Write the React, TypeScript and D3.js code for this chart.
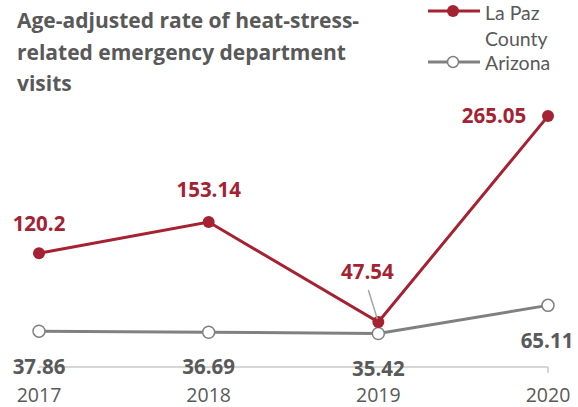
import React from 'react';
import * as d3 from 'd3';

const years = ['2017', '2018', '2019', '2020'];
const laPaz = [120.2, 153.14, 47.54, 265.05];
const arizona = [37.86, 36.69, 35.42, 65.11];
const laPazLabels = ['120.2', '153.14', '47.54', '265.05'];
const arizonaLabels = ['37.86', '36.69', '35.42', '65.11'];
const titleLines = ['Age-adjusted rate of heat-stress-', 'related emergency department', 'visits'];

const RED = '#A52232';
const GRAY = '#808080';
const TEXT = '#595959';
const FONT = '"Open Sans", Lato, sans-serif';
const LEGEND_FONT = 'Lato, "Open Sans", sans-serif';

const width = 578;
const height = 407;

const App = () => {
  const x = d3.scalePoint().domain(years).range([39, 548]);
  const y = d3.scaleLinear().domain([0, 300]).range([367, 83]);

  const line = d3
    .line<number>()
    .x((_, i) => x(years[i]) as number)
    .y((d) => y(d));

  // label offsets relative to point (dx, dy)
  const redOffsets = [
    [0, -29],
    [0, -32],
    [-11, -50],
    [-54, 0],
  ];
  const grayOffsets = [
    [0, 36],
    [0, 35],
    [0, 35],
    [-1, 35],
  ];

  return (
    <svg
      width={width}
      height={height}
      style={{ position: 'absolute', left: 0, top: 0, background: '#fff' }}
      fontFamily={FONT}
    >
      {/* title */}
      {titleLines.map((t, i) => (
        <text key={t} x={17} y={28 + i * 31.5} fontSize={21} fontWeight="bold" fill={TEXT}>
          {t}
        </text>
      ))}

      {/* legend */}
      <g fontFamily={LEGEND_FONT}>
        <line x1={428} x2={480} y1={11} y2={11} stroke={RED} strokeWidth={3} />
        <circle cx={453} cy={11} r={6} fill={RED} />
        <text x={485} y={19.5} fontSize={19.5} fill={TEXT}>La Paz</text>
        <text x={485} y={46} fontSize={19.5} fill={TEXT}>County</text>
        <line x1={428} x2={480} y1={62} y2={62} stroke={GRAY} strokeWidth={3} />
        <circle cx={453} cy={62} r={5.5} fill="#fff" stroke={GRAY} strokeWidth={1.5} />
        <text x={485} y={70} fontSize={19.5} fill={TEXT}>Arizona</text>
      </g>

      {/* axis */}
      <line x1={x(years[0])} x2={x(years[3])} y1={y(0)} y2={y(0)} stroke="#c8c8c8" strokeWidth={1.5} />
      <line x1={x(years[3])} x2={x(years[3])} y1={y(0)} y2={y(0) + 6} stroke="#c8c8c8" strokeWidth={1.5} />
      {years.map((yr) => (
        <text key={yr} x={x(yr)} y={395} dy="0.35em" textAnchor="middle" fontSize={19.5} fill={TEXT}>
          {yr}
        </text>
      ))}

      {/* arizona */}
      <path d={line(arizona) || ''} fill="none" stroke={GRAY} strokeWidth={3} />
      {arizona.map((v, i) => (
        <circle key={i} cx={x(years[i])} cy={y(v)} r={6} fill="#fff" stroke={GRAY} strokeWidth={1.5} />
      ))}

      {/* la paz */}
      <path d={line(laPaz) || ''} fill="none" stroke={RED} strokeWidth={3} />
      {laPaz.map((v, i) => (
        <circle key={i} cx={x(years[i])} cy={y(v)} r={6} fill={RED} />
      ))}

      {/* leader line for 47.54 */}
      <line
        x1={(x(years[2]) as number) - 10}
        y1={y(laPaz[2]) - 32}
        x2={(x(years[2]) as number) - 1}
        y2={y(laPaz[2]) - 3}
        stroke="#a6a6a6"
        strokeWidth={1.5}
      />

      {/* labels */}
      {laPaz.map((v, i) => (
        <text
          key={i}
          x={(x(years[i]) as number) + redOffsets[i][0]}
          y={y(v) + redOffsets[i][1]}
          dy="0.35em"
          textAnchor="middle"
          fontSize={20.5}
          fontWeight="bold"
          fill={RED}
        >
          {laPazLabels[i]}
        </text>
      ))}
      {arizona.map((v, i) => (
        <text
          key={i}
          x={(x(years[i]) as number) + grayOffsets[i][0]}
          y={y(v) + grayOffsets[i][1]}
          dy="0.35em"
          textAnchor="middle"
          fontSize={20.5}
          fontWeight="bold"
          fill={TEXT}
        >
          {arizonaLabels[i]}
        </text>
      ))}
    </svg>
  );
};

export default App;
